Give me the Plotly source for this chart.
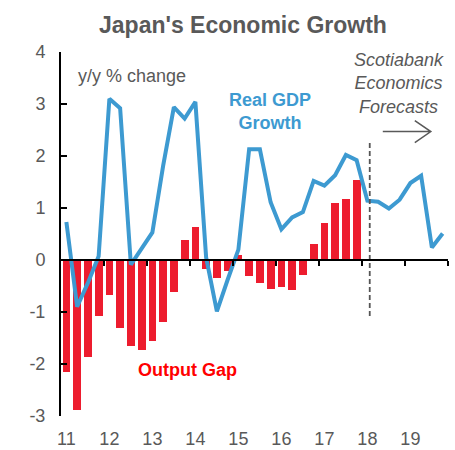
import plotly.graph_objects as go

# Quarterly labels, 2011Q1 .. 2019Q4
years = list(range(2011, 2020))
quarters = [f"{y}Q{q}" for y in years for q in range(1, 5)]

# Real GDP growth, y/y % change (2018-2019 are forecasts)
gdp_growth = [0.73, -0.90, -0.44, 0.07,
              3.10, 2.92, -0.09, 0.22,
              0.53, 1.81, 2.94, 2.72,
              3.04, 0.05, -0.99, -0.38,
              0.20, 2.13, 2.13, 1.11,
              0.59, 0.82, 0.92, 1.52,
              1.43, 1.63, 2.02, 1.92,
              1.14, 1.12, 0.99, 1.16,
              1.48, 1.62, 0.24, 0.51]

# Output gap, % of potential GDP (2011Q1 .. 2017Q4)
output_gap = [-2.15, -2.89, -1.86, -1.07,
              -0.68, -1.30, -1.65, -1.73,
              -1.55, -1.19, -0.62, 0.38,
              0.64, -0.17, -0.35, -0.22,
              0.10, -0.31, -0.44, -0.56,
              -0.52, -0.58, -0.28, 0.30,
              0.72, 1.09, 1.18, 1.54]

year_labels = [str(y)[2:] for y in years]
y_ticks = list(range(-3, 5))
y_labels = [str(v) for v in y_ticks]

forecast_start = 2018.18


def qpos(label):
    """Centre of a quarter on a continuous year axis."""
    y, q = label.split("Q")
    return int(y) + (int(q) - 0.5) / 4


x_all = [qpos(q) for q in quarters]
x_gap = x_all[:len(output_gap)]

FONT = "Liberation Sans, Arial, sans-serif"
GREY = "#595959"
BLUE = "#3D9AD1"
RED = "#ED1C2E"

fig = go.Figure()

fig.add_trace(go.Bar(
    x=x_gap, y=output_gap, width=0.18,
    marker=dict(color=RED, line=dict(width=0)),
    showlegend=False, hoverinfo="skip",
))

fig.add_trace(go.Scatter(
    x=x_all, y=gdp_growth, mode="lines",
    line=dict(color=BLUE, width=4),
    showlegend=False, hoverinfo="skip",
))

# Forecast divider, drawn on the zero-line axis
fig.add_trace(go.Scatter(
    x=[forecast_start, forecast_start], y=[2.25, -1.1], mode="lines",
    line=dict(color="#555555", width=1.8, dash="5px,3px"),
    xaxis="x2", showlegend=False, hoverinfo="skip",
))

lo, hi = y_ticks[0], y_ticks[-1]

fig.update_layout(
    width=455, height=450,
    margin=dict(l=61, r=7, t=52, b=34, autoexpand=False),
    paper_bgcolor="white", plot_bgcolor="white",
    font=dict(family=FONT, size=18, color=GREY),
    bargap=0,
    title=dict(text="<b>Japan's Economic Growth</b>",
               x=0.534, xanchor="center", y=0.944, yanchor="middle",
               font=dict(size=23, color=GREY, family=FONT)),
    xaxis=dict(
        range=[years[0], years[-1] + 1],
        tickmode="array",
        tickvals=[qpos(f"{y}Q1") for y in years],
        ticktext=year_labels,
        ticks="", showline=False, showgrid=False, zeroline=False,
        ticklabelstandoff=10, automargin=False,
        tickfont=dict(size=18, color=GREY),
    ),
    xaxis2=dict(
        matches="x", overlaying="x", anchor="free",
        position=(0 - lo) / (hi - lo), side="bottom",
        tickmode="array", tickvals=list(range(years[0] + 1, years[-1] + 2)),
        showticklabels=False, ticks="outside", ticklen=5, tickwidth=2,
        tickcolor="black", showline=True, linecolor="black", linewidth=2,
        showgrid=False, zeroline=False, automargin=False,
    ),
    yaxis=dict(
        range=[lo, hi],
        tickmode="array", tickvals=y_ticks, ticktext=y_labels,
        ticks="inside", ticklen=6, tickwidth=2, tickcolor="black",
        showline=True, linecolor="black", linewidth=2,
        showgrid=False, zeroline=False, automargin=False,
        ticklabelstandoff=10,
        tickfont=dict(size=18, color=GREY),
    ),
)

# Forecast arrow
fig.add_shape(type="path", xref="x", yref="y",
              xsizemode="pixel", ysizemode="pixel",
              xanchor=2019.6, yanchor=2.47,
              path="M -48 0 L 0 0 M -16 -11 L 0 0 L -16 11",
              line=dict(color=GREY, width=1.5))

fig.add_annotation(x=2012.65, y=3.53, text="y/y % change", showarrow=False,
                   font=dict(size=18, color=GREY), xanchor="center", yanchor="middle")
fig.add_annotation(x=2015.87, y=2.86, text="<b>Real GDP<br>Growth</b>", showarrow=False,
                   font=dict(size=18, color=BLUE), xanchor="center", yanchor="middle")
fig.add_annotation(x=2018.86, y=3.40, text="<i>Scotiabank<br>Economics<br>Forecasts</i>",
                   showarrow=False, font=dict(size=18, color=GREY),
                   xanchor="center", yanchor="middle")
fig.add_annotation(x=2013.94, y=-2.12, text="<b>Output Gap</b>", showarrow=False,
                   font=dict(size=18, color="#FF0000"), xanchor="center", yanchor="middle")

fig.write_html("out.html")
